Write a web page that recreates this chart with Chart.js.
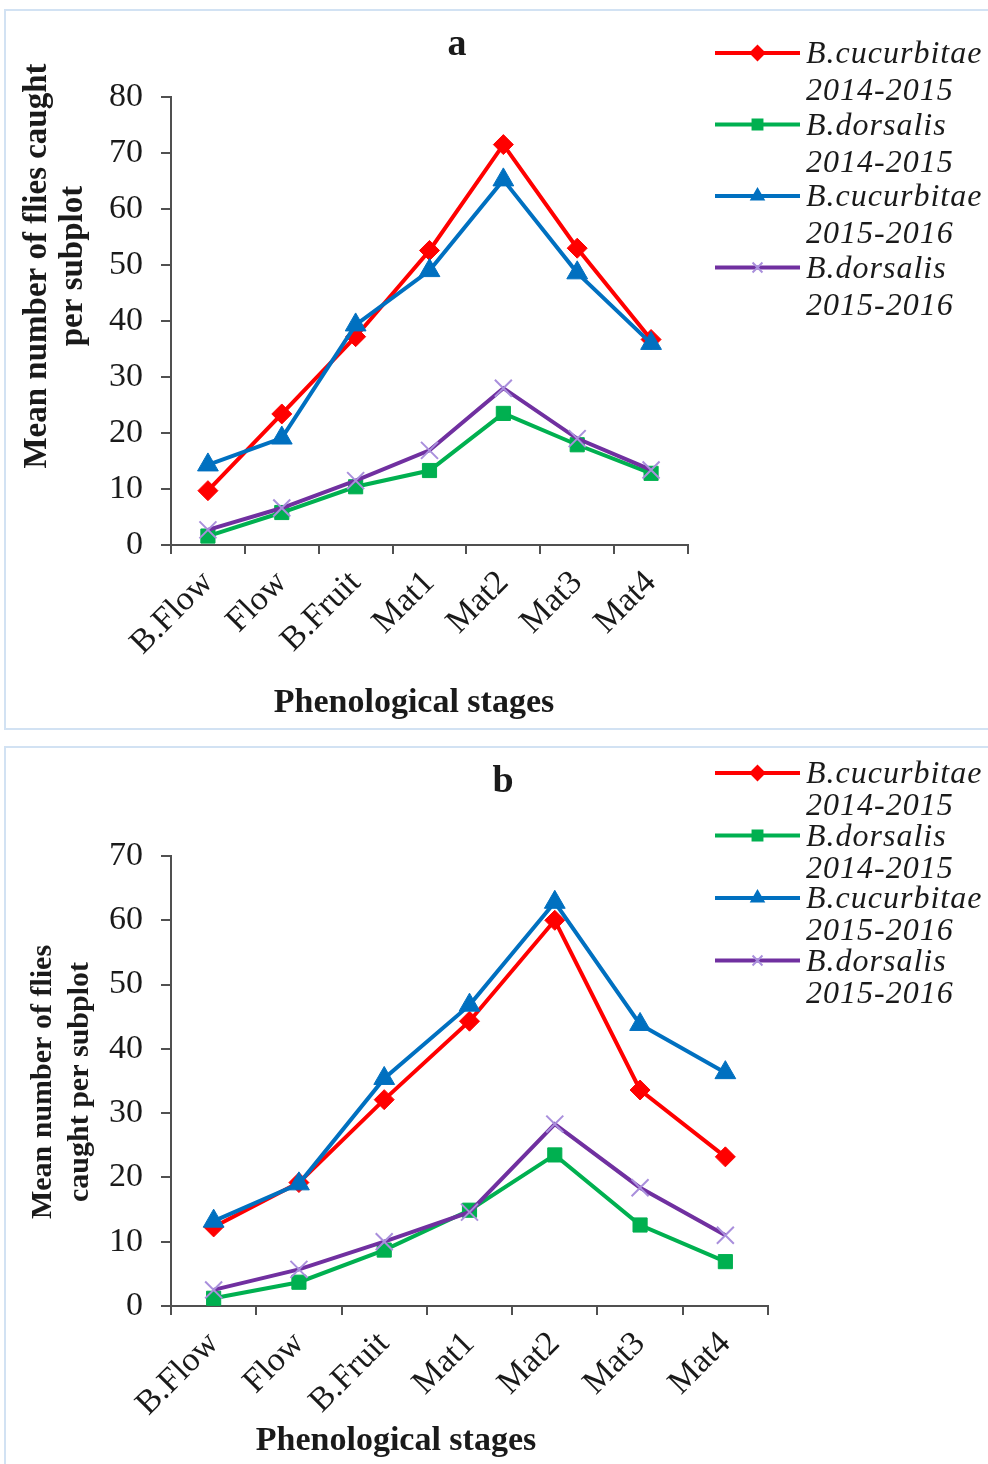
<!DOCTYPE html>
<html>
<head>
<meta charset="utf-8">
<script src="https://cdn.jsdelivr.net/npm/chart.js@4.4.1/dist/chart.umd.min.js"></script>
<style>
  body { margin: 0; background: #fff; width: 988px; height: 1464px; position: relative; overflow: hidden; }
  .frame { position: absolute; border: 2px solid #d2e2f3; box-sizing: border-box; }
  canvas { position: absolute; left: 0; }
</style>
</head>
<body>
<div class="frame" style="left:4px;top:9px;width:1000px;height:721px"></div>
<div class="frame" style="left:4px;top:746px;width:1000px;height:740px"></div>
<canvas id="chartA" width="988" height="735" style="top:0"></canvas>
<canvas id="chartB" width="988" height="727" style="top:737px"></canvas>
<script>
const stages = ["B.Flow", "Flow", "B.Fruit", "Mat1", "Mat2", "Mat3", "Mat4"];
const seriesLabels = ["B.cucurbitae 2014-2015", "B.dorsalis 2014-2015", "B.cucurbitae 2015-2016", "B.dorsalis 2015-2016"];

// panel a
const cucurbitae1415A = [9.7, 23.4, 37.2, 52.6, 71.5, 53.0, 36.7];
const dorsalis1415A = [1.6, 5.8, 10.4, 13.3, 23.5, 17.9, 12.8];
const cucurbitae1516A = [14.3, 19.1, 39.3, 49.0, 65.2, 48.6, 36.0];
const dorsalis1516A = [2.7, 6.6, 11.5, 16.9, 28.0, 19.0, 13.4];

// panel b
const cucurbitae1415B = [12.3, 19.2, 32.1, 44.3, 60.0, 33.6, 23.2];
const dorsalis1415B = [1.2, 3.7, 8.7, 14.9, 23.5, 12.6, 6.9];
const cucurbitae1516B = [13.2, 19.0, 35.4, 46.8, 62.8, 43.8, 36.3];
const dorsalis1516B = [2.5, 5.7, 10.0, 14.6, 28.3, 18.4, 11.0];

const colors = ["#ff0000", "#00b050", "#0070c0", "#7030a0"];
const markers = ["rectRot", "rect", "triangle", "crossRot"];
const font = "'Liberation Serif', 'Times New Roman', serif";

// free text: panel letter and axis titles
const panelText = {
  id: "panelText",
  afterDraw(chart, args, opts) {
    const ctx = chart.ctx;
    ctx.save();
    ctx.fillStyle = "#1a1a1a";
    ctx.textAlign = "center";
    ctx.textBaseline = "middle";
    opts.items.forEach(t => {
      ctx.save();
      ctx.font = t.font;
      ctx.translate(t.x, t.y);
      if (t.rotate) ctx.rotate(t.rotate);
      ctx.fillText(t.text, 0, 0);
      ctx.restore();
    });
    ctx.restore();
  }
};

// legend with two-line labels to the right of the plot
const sideLegend = {
  id: "sideLegend",
  afterDraw(chart, args, opts) {
    const ctx = chart.ctx;
    ctx.save();
    chart.data.datasets.forEach((ds, i) => {
      const y = opts.top + i * opts.step;
      ctx.strokeStyle = ds.borderColor;
      ctx.lineWidth = ds.borderWidth;
      ctx.beginPath();
      ctx.moveTo(opts.x0, y);
      ctx.lineTo(opts.x1, y);
      ctx.stroke();
      ctx.fillStyle = ds.pointBackgroundColor;
      ctx.strokeStyle = ds.pointBorderColor;
      ctx.lineWidth = 2;
      Chart.helpers.drawPoint(ctx, { pointStyle: ds.pointStyle, radius: opts.radius, borderWidth: 2, rotation: 0 }, (opts.x0 + opts.x1) / 2, y);
      ctx.fillStyle = "#1a1a1a";
      ctx.font = opts.font;
      ctx.letterSpacing = "1px";
      ctx.textAlign = "left";
      ctx.textBaseline = "middle";
      ds.label.split(" ").forEach((line, k) => {
        ctx.fillText(line, opts.x1 + 6, y + 2 + k * opts.lineGap);
      });
    });
    ctx.restore();
  }
};

function makeDatasets(series, radius) {
  return series.map((data, i) => ({
    label: seriesLabels[i],
    data,
    borderColor: colors[i],
    backgroundColor: colors[i],
    borderWidth: 4,
    tension: 0,
    pointStyle: markers[i],
    pointRadius: i === 2 || i === 3 ? radius + 2 : radius,
    pointBackgroundColor: colors[i],
    pointBorderColor: i === 3 ? "#a98fdc" : colors[i],
    pointBorderWidth: i === 3 ? 2 : 1,
    order: 4 - i,
    clip: false
  }));
}

function renderPanel(canvasId, series, yMax, area, texts, legend) {
  const ctx = document.getElementById(canvasId).getContext("2d");
  const h = ctx.canvas.height;
  new Chart(ctx, {
    type: "line",
    data: { labels: stages, datasets: makeDatasets(series, area.radius) },
    options: {
      responsive: false,
      animation: false,
      layout: { padding: { left: 0, top: area.top, right: 988 - area.right, bottom: 0 } },
      scales: {
        x: {
          offset: true,
          grid: { offset: true, drawOnChartArea: false, color: "#505050", lineWidth: 2, tickLength: 9 },
          border: { color: "#505050", width: 2 },
          ticks: { autoSkip: false, minRotation: 45, maxRotation: 45, padding: 9, color: "#1a1a1a", font: { family: font, size: 34 } },
          afterFit: s => { s.height = h - area.bottom; }
        },
        y: {
          min: 0,
          max: yMax,
          grid: { drawOnChartArea: false, color: "#505050", lineWidth: 2, tickLength: 10 },
          border: { color: "#505050", width: 2 },
          ticks: { stepSize: 10, padding: 18, color: "#1a1a1a", font: { family: font, size: 34 } },
          afterFit: s => { s.width = area.left; }
        }
      },
      plugins: {
        legend: { display: false },
        tooltip: { enabled: false },
        panelText: { items: texts },
        sideLegend: legend
      }
    },
    plugins: [panelText, sideLegend]
  });
}

renderPanel("chartA",
  [cucurbitae1415A, dorsalis1415A, cucurbitae1516A, dorsalis1516A], 80,
  { left: 171, right: 688, top: 97, bottom: 545, radius: 10 },
  [
    { text: "a", x: 457, y: 45, font: `bold 38px ${font}` },
    { text: "Mean number of flies caught", x: 37, y: 266, rotate: -Math.PI / 2, font: `bold 33px ${font}` },
    { text: "per subplot", x: 73, y: 266, rotate: -Math.PI / 2, font: `bold 33px ${font}` },
    { text: "Phenological stages", x: 414, y: 703, font: `bold 34px ${font}` }
  ],
  { x0: 715, x1: 800, top: 53, step: 71.5, lineGap: 37, radius: 7, font: `italic 32px ${font}` }
);

renderPanel("chartB",
  [cucurbitae1415B, dorsalis1415B, cucurbitae1516B, dorsalis1516B], 70,
  { left: 171, right: 768, top: 119, bottom: 569, radius: 10 },
  [
    { text: "b", x: 503, y: 45, font: `bold 38px ${font}` },
    { text: "Mean number of flies", x: 43, y: 345, rotate: -Math.PI / 2, font: `bold 30px ${font}` },
    { text: "caught per subplot", x: 80, y: 345, rotate: -Math.PI / 2, font: `bold 30px ${font}` },
    { text: "Phenological stages", x: 396, y: 704, font: `bold 34px ${font}` }
  ],
  { x0: 715, x1: 800, top: 36, step: 62.5, lineGap: 32, radius: 7, font: `italic 32px ${font}` }
);
</script>
</body>
</html>
